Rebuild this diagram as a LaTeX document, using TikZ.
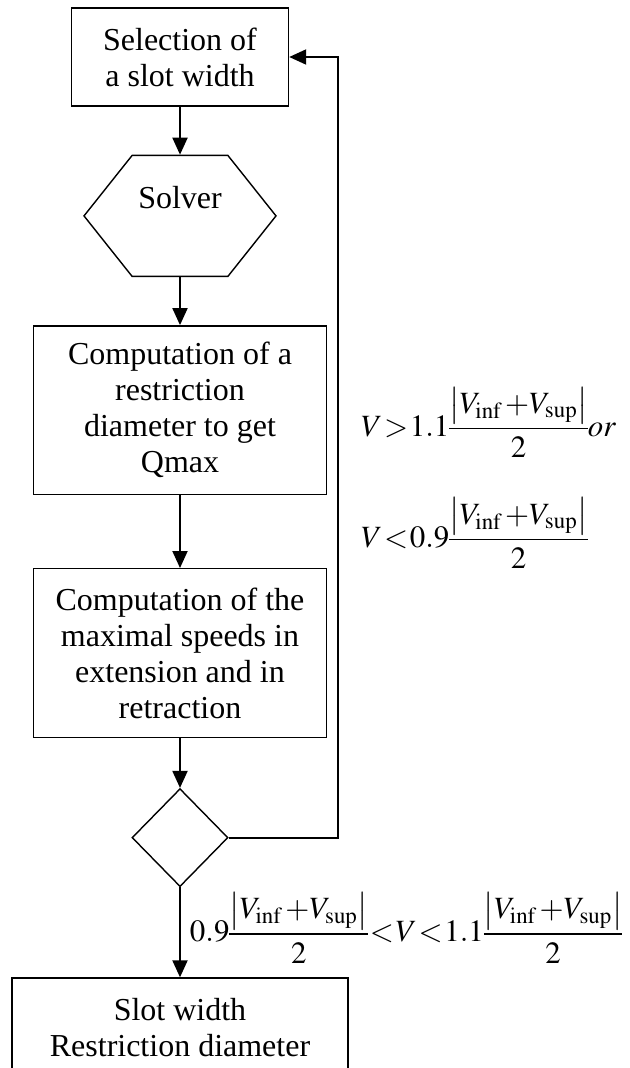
\documentclass[tikz,border=0pt]{standalone}
\usepackage{amsmath}
\usepackage{mathptmx}
\usepackage{fontspec}
\setmainfont{Liberation Serif}
\usepackage{tikz}
\usetikzlibrary{shapes.geometric, shapes.symbols, arrows.meta, positioning}
\newcommand{\vmean}{\dfrac{\bigl\lvert V_{\mathrm{inf}}\mskip2mu+V_{\mathrm{sup}}\bigr\rvert}{2}}
\medmuskip=0mu
\thickmuskip=1mu plus 1mu
\nulldelimiterspace=0pt

\begin{document}
\begin{tikzpicture}[
        node distance=0.96cm,
        every node/.style={font=\fontsize{18.2pt}{20.5pt}\selectfont},
        box/.style={rectangle, draw, line width=0.8pt, align=center, minimum width=5.86cm, minimum height=3.37cm, inner sep=0pt},
        hexa/.style={signal, signal to=east and west, signal pointer angle=103, draw, line width=0.8pt, minimum width=3.84cm, minimum height=2.42cm, inner sep=0pt, align=center},
        decision/.style={diamond, draw, line width=0.8pt, minimum width=1.92cm, minimum height=1.96cm, inner sep=0pt},
        cond/.style={inner sep=0pt, align=left, font=\fontsize{17.6pt}{20pt}\selectfont},
        arrow/.style={-{Triangle[length=0.34cm, width=0.3cm]}, line width=1.1pt}
    ]
    \useasboundingbox (0,0) rectangle (12.58,-21.36);
    \clip (0,0) rectangle (12.58,-21.36);

    % Start
    \node[box, minimum width=4.34cm, minimum height=1.96cm] (sel) at (3.6,-1.14) {Selection of\\a slot width};

    % Solver and computations
    \node[hexa, below=of sel] (solver) {Solver\\\mbox{}};
    \node[box, below=of solver] (comp) {Computation of a\\restriction\\diameter to get\\Qmax};
    \node[box, below=1.46cm of comp] (speeds) {Computation of the\\maximal speeds in\\extension and in\\retraction};

    % Test and result
    \node[decision, below=1.0cm of speeds] (check) {};
    \node[box, below=1.8cm of check, minimum width=6.72cm, minimum height=2.0cm] (result) {Slot width\\Restriction diameter};

    % Arrows
    \draw[arrow] (sel) -- (solver);
    \draw[arrow] (solver) -- (comp);
    \draw[arrow] (comp) -- (speeds);
    \draw[arrow] (speeds) -- (check);
    \draw[arrow] (check) -- node[cond, right=0.18cm, pos=0.45] (okcond) {$0.9\vmean<V<1.1\vmean$} (result);

    % Loop back
    \coordinate[right=2.18cm of check.east] (turn);
    \draw[arrow] (check.east) -- (turn) |- (sel.east);
    \node[cond, right=0.46cm of turn, yshift=7.2cm] (loopcond) {$V>1.1\vmean or$\\[22pt]$V<0.9\vmean$};

\end{tikzpicture}
\end{document}
